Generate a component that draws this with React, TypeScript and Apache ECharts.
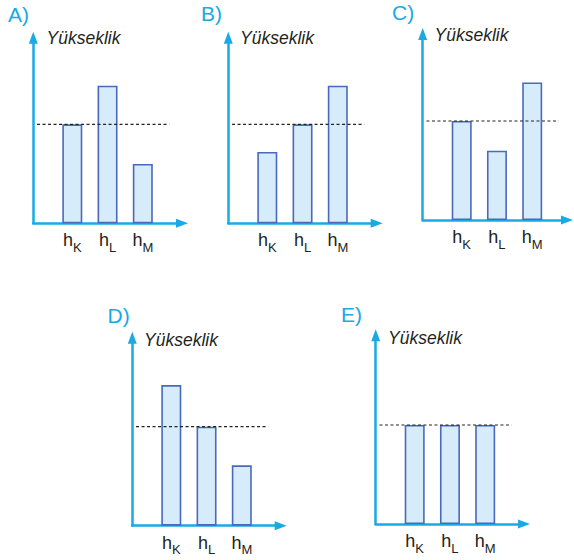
import React, { useEffect, useRef } from "react";
import * as echarts from "echarts";

// ---- data ----
const categories = ["K", "L", "M"];
const panelLetters = ["A)", "B)", "C)", "D)", "E)"];
const heightsA = [100, 139, 60];
const heightsB = [72, 100, 139];
const heightsC = [100, 70, 139];
const heightsD = [142, 100, 61];
const heightsE = [100, 100, 100];
const referenceLevel = 100;
const axisName = "Yükseklik";

const panelHeights = [heightsA, heightsB, heightsC, heightsD, heightsE];

// ---- layout (pixels) ----
const panels = [
  { ox: 33.3, oy: 223.3, yTip: 31.7, xTip: 188, lx: 8, ly: 14, nx: 46.5, ny: 38 },
  { ox: 228.3, oy: 223.3, yTip: 31.7, xTip: 382.7, lx: 201, ly: 13.5, nx: 240, ny: 38 },
  { ox: 422.7, oy: 220, yTip: 28, xTip: 573, lx: 392, ly: 12.5, nx: 434.5, ny: 35 },
  { ox: 132.3, oy: 525.7, yTip: 331.7, xTip: 286.7, lx: 107.5, ly: 315, nx: 144, ny: 340 },
  { ox: 375.7, oy: 524, yTip: 329.3, xTip: 530, lx: 341, ly: 314, nx: 388, ny: 338 },
];

const AXIS_COLOR = "#19a9e5";
const FONT = "'Liberation Sans', Arial, sans-serif";
const STEP = 35.25; // px per category
const FIRST = 39; // px from y axis to first bar centre
const PPU = 0.99; // px per height unit
const ARROW = 12;

export default function App() {
  const ref = useRef<HTMLDivElement>(null);
  useEffect(() => {
    if (!ref.current) return;
    const chart = echarts.init(ref.current, null, { renderer: "svg" });
    const grid: any[] = [];
    const xAxis: any[] = [];
    const yAxis: any[] = [];
    const series: any[] = [];
    const graphic: any[] = [];
    panels.forEach((p, i) => {
      const top = p.yTip + ARROW / 2;
      const width = p.xTip - ARROW / 2 - p.ox;
      const height = p.oy - top;
      const xmin = 1 - FIRST / STEP;
      const xmax = xmin + width / STEP;
      grid.push({ left: p.ox, top, width, height, containLabel: false });
      const axisLine = {
        show: true,
        onZero: false,
        symbol: ["none", "triangle"],
        symbolSize: [9, ARROW],
        lineStyle: { color: AXIS_COLOR, width: 2.5 },
      };
      xAxis.push({
        type: "value",
        gridIndex: i,
        min: xmin,
        max: xmax,
        axisLine,
        axisTick: { show: false },
        splitLine: { show: false },
        axisLabel: {
          customValues: categories.map((_, k) => k + 1),
          margin: 8,
          formatter: (v: number) => {
            const c = categories[Math.round(v) - 1];
            return c ? `{h|h}{s|${c}}` : "";
          },
          rich: {
            h: { fontSize: 18, fontFamily: FONT, color: "#231f20", verticalAlign: "top" },
            s: {
              fontSize: 13,
              fontFamily: FONT,
              color: "#231f20",
              verticalAlign: "top",
              padding: [9.5, 0, 0, 0],
            },
          },
        },
      });
      yAxis.push({
        type: "value",
        gridIndex: i,
        min: 0,
        max: height / PPU,
        axisLine,
        axisTick: { show: false },
        splitLine: { show: false },
        axisLabel: { show: false },
      });
      series.push({
        type: "bar",
        xAxisIndex: i,
        yAxisIndex: i,
        barWidth: 20,
        data: panelHeights[i].map((h, k) => [k + 1, h]),
        itemStyle: { color: "#d6ecfa", borderColor: "#4a69bd", borderWidth: 1.6 },
        silent: true,
      });
      series.push({
        type: "line",
        xAxisIndex: i,
        yAxisIndex: i,
        data: [
          [0, referenceLevel],
          [3.75, referenceLevel],
        ],
        symbol: "none",
        lineStyle: { color: "#222", width: 1.2, type: [3, 2.5] },
        silent: true,
        z: 5,
      });
      graphic.push({
        type: "text",
        x: p.lx,
        y: p.ly,
        style: {
          text: panelLetters[i],
          fill: AXIS_COLOR,
          fontSize: 21,
          fontFamily: FONT,
          verticalAlign: "middle",
          align: "left",
        },
      });
      graphic.push({
        type: "text",
        x: p.nx,
        y: p.ny,
        style: {
          text: axisName,
          fill: "#231f20",
          fontSize: 17.5,
          fontStyle: "italic",
          fontFamily: FONT,
          verticalAlign: "middle",
          align: "left",
        },
      });
    });
    chart.setOption({
      animation: false,
      backgroundColor: "#ffffff",
      grid,
      xAxis,
      yAxis,
      series,
      graphic,
    });
    return () => chart.dispose();
  }, []);
  return (
    <div
      ref={ref}
      style={{ position: "absolute", left: 0, top: 0, width: 574, height: 560 }}
    />
  );
}
